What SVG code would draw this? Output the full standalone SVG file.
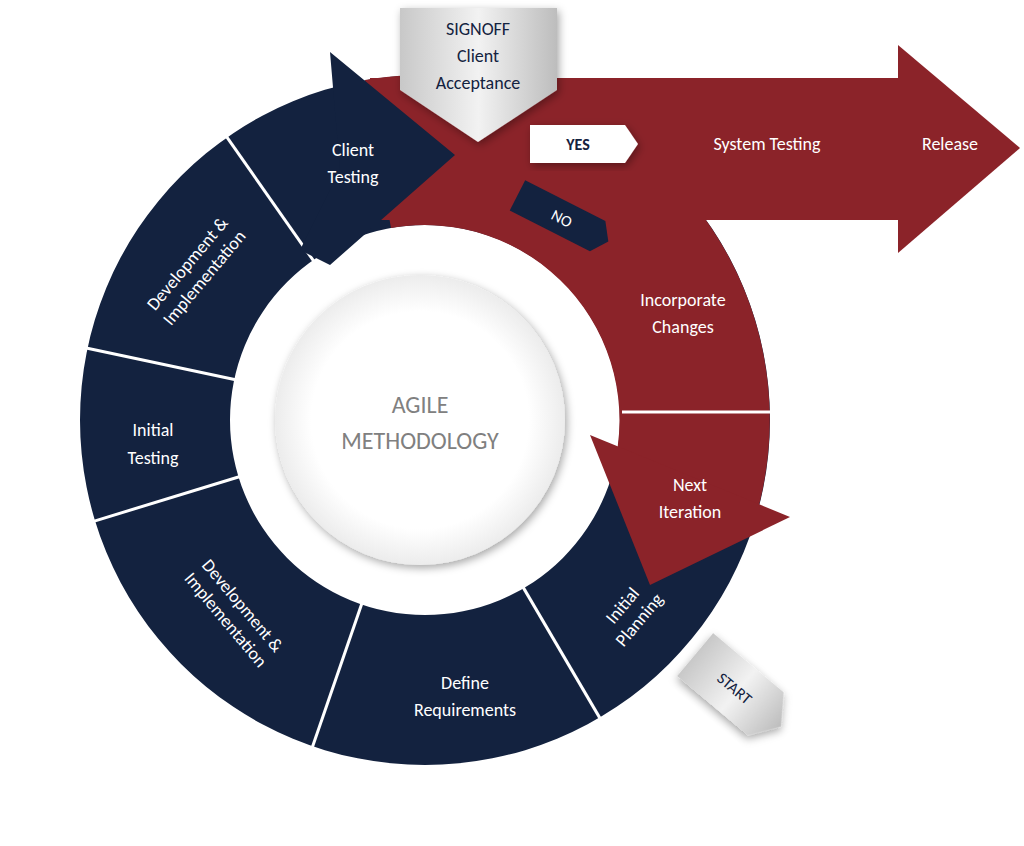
<svg xmlns="http://www.w3.org/2000/svg" width="1024" height="846" viewBox="0 0 1024 846">
<defs>
<linearGradient id="g" x1="0" y1="0" x2="1" y2="0"><stop offset="0" stop-color="#c8c8c8"/><stop offset="0.5" stop-color="#f2f2f2"/><stop offset="1" stop-color="#bdbdbd"/></linearGradient>
<radialGradient id="c" cx="0.5" cy="0.5" r="0.5"><stop offset="0.75" stop-color="#ffffff"/><stop offset="1" stop-color="#ececec"/></radialGradient>
<filter id="sh" x="-20%" y="-20%" width="140%" height="140%"><feDropShadow dx="2" dy="3" stdDeviation="4" flood-opacity="0.35"/></filter>
</defs>
<style>
.t{font-family:Calibri,"Liberation Sans",sans-serif;font-size:18px;fill:#fff;text-anchor:middle}
.n{fill:#13223f}.r{fill:#8b2329}
.d{stroke:#fff;stroke-width:3}
</style>
<rect width="1024" height="846" fill="#fff"/>
<g id="ring">
<path class="n" fill-rule="evenodd" d="M770 420A345 345 0 1 1 80 420A345 345 0 1 1 770 420ZM620 420A195 195 0 1 0 230 420A195 195 0 1 0 620 420Z"/>
</g>
<g id="red">
<path class="r" d="M365 80A345 345 0 0 1 758 509L613 470A195 195 0 0 0 391 228Z"/>
<rect class="r" x="370" y="78" width="530" height="142"/>
<polygon class="r" points="898,45 1020,148 898,253"/>
<polygon class="r" points="590,435 790,517 650,585"/>
</g>
<g id="connectors">
<line class="d" x1="615" y1="420" x2="775" y2="420" transform="rotate(-125 425 420)"/>
<line class="d" x1="615" y1="420" x2="775" y2="420" transform="rotate(-168 425 420)"/>
<line class="d" x1="615" y1="420" x2="775" y2="420" transform="rotate(163 425 420)"/>
<line class="d" x1="615" y1="420" x2="775" y2="420" transform="rotate(109 425 420)"/>
<line class="d" x1="615" y1="420" x2="775" y2="420" transform="rotate(59.6 425 420)"/>
<line class="d" x1="622" y1="412" x2="770" y2="412"/>
</g>
<g id="clientarrow"><polygon class="n" points="330,52 455,155 330,265 300,250 340,170"/></g>
<g id="center"><circle cx="420" cy="420" r="145" fill="url(#c)" filter="url(#sh)"/>
<text x="420" y="413" font-family="Calibri,'Liberation Sans',sans-serif" font-size="24" fill="#808080" text-anchor="middle">AGILE</text>
<text x="420" y="449" font-family="Calibri,'Liberation Sans',sans-serif" font-size="24" fill="#808080" text-anchor="middle">METHODOLOGY</text></g>
<g id="labels">
<text class="t" x="353" y="156">Client</text><text class="t" x="353" y="183">Testing</text>
<g transform="translate(195,270) rotate(-50)"><text class="t" y="-4">Development &amp;</text><text class="t" y="18">Implementation</text></g>
<text class="t" x="153" y="436">Initial</text><text class="t" x="153" y="464">Testing</text>
<g transform="translate(235,612) rotate(50)"><text class="t" y="-4">Development &amp;</text><text class="t" y="18">Implementation</text></g>
<text class="t" x="465" y="689">Define</text><text class="t" x="465" y="716">Requirements</text>
<g transform="translate(630,612) rotate(-50)"><text class="t" y="-4">Initial</text><text class="t" y="18">Planning</text></g>
<text class="t" x="683" y="306">Incorporate</text><text class="t" x="683" y="333">Changes</text>
<text class="t" x="690" y="491">Next</text><text class="t" x="690" y="518">Iteration</text>
<text class="t" x="767" y="150">System Testing</text>
<text class="t" x="950" y="150">Release</text>
</g>
<g id="signoff"><polygon points="400,8 557,8 557,90 478,142 400,90" fill="url(#g)" filter="url(#sh)"/>
<text class="t" x="478" y="35" style="fill:#13223f">SIGNOFF</text><text class="t" x="478" y="62" style="fill:#13223f">Client</text><text class="t" x="478" y="89" style="fill:#13223f">Acceptance</text></g>
<g id="yes"><polygon points="530,125 625,125 638,144 625,163 530,163" fill="#fff" filter="url(#sh)"/>
<text class="t" x="578" y="150" style="fill:#13223f;font-weight:bold;font-size:16px">YES</text></g>
<g id="no" transform="translate(562,218) rotate(27)"><polygon class="n" points="-50,-17 40,-17 52,0 40,17 -50,17"/>
<text class="t" y="6" style="font-size:16px">NO</text></g>
<g id="start" transform="translate(735,688) rotate(40)"><polygon points="-52,-28 40,-28 60,0 40,28 -52,28" fill="url(#g)" filter="url(#sh)"/>
<text class="t" y="6" style="fill:#13223f;font-size:16px">START</text></g>
</svg>
